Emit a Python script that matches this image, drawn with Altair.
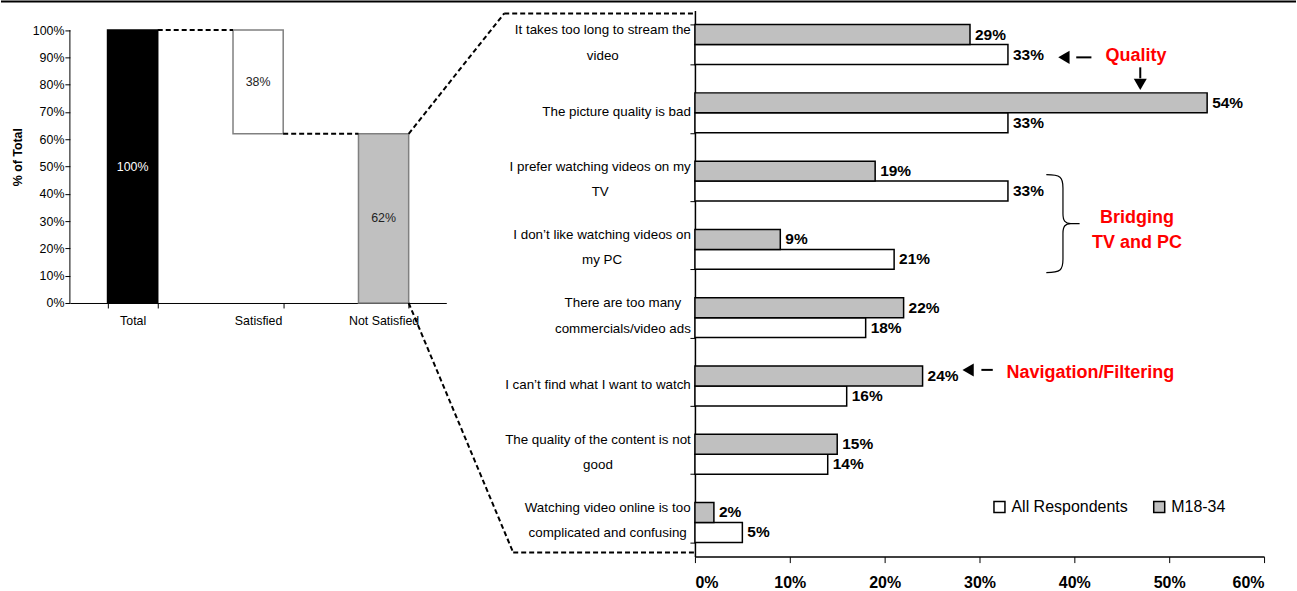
import altair as alt
import pandas as pd

# ---------------- data ----------------
wf_cats = ["Total", "Satisfied", "Not Satisfied"]
wf_lo = [0, 62, 0]
wf_hi = [100, 100, 62]
wf_labels = ["100%", "38%", "62%"]
wf_ticks = [0, 10, 20, 30, 40, 50, 60, 70, 80, 90, 100]

reasons = [
    "It takes too long to stream the\nvideo",
    "The picture quality is bad",
    "I prefer watching videos on my\nTV",
    "I don\u2019t like watching videos on\nmy PC",
    "There are too many\ncommercials/video ads",
    "I can\u2019t find what I want to watch",
    "The quality of the content is not\ngood",
    "Watching video online is too\ncomplicated and confusing",
]
all_resp = [33, 33, 33, 21, 18, 16, 14, 5]
m1834 = [29, 54, 19, 9, 22, 24, 15, 2]
series = ["All Respondents", "M18-34"]
x_ticks = [0, 10, 20, 30, 40, 50, 60]

# ---------------- styling / layout ----------------
F = "Liberation Sans, Arial, sans-serif"
RED = "#ff0000"
GRAY = "#c0c0c0"

LW, LH = 377, 293          # left plot area
L_PX_PER_PCT = 2.733       # left y scale px per %
RW, RH = 570, 547          # right plot area
SPACING = 249
PXP = RW / 60.0            # right x scale px per %
LAB_FS = 13.4

ytop = LH / L_PX_PER_PCT

# Arial / Liberation Sans advance widths (1/1000 em) for label centring
W = {" ": 278, "a": 556, "b": 556, "c": 500, "d": 556, "e": 556, "f": 278, "g": 556,
     "h": 556, "i": 222, "j": 222, "k": 500, "l": 222, "m": 833, "n": 556, "o": 556,
     "p": 556, "q": 556, "r": 333, "s": 500, "t": 278, "u": 556, "v": 500, "w": 722,
     "x": 500, "y": 500, "z": 500, "I": 278, "T": 611, "P": 667, "C": 722, "V": 667,
     "W": 944, "/": 278, "\u2019": 222}


def text_w(s, size):
    return sum(W.get(c, 556) for c in s) / 1000.0 * size


one = pd.DataFrame({"k": [0]})

# ---------------- left waterfall ----------------
wf = pd.DataFrame({"cat": wf_cats, "lo": wf_lo, "hi": wf_hi, "label": wf_labels})
base_l = alt.Chart(wf)

xL_axis = alt.Axis(title=None, labelAngle=0, labelFont=F, labelFontSize=12.4,
                   labelColor="black", domainColor="black", tickColor="black",
                   tickSize=5, tickBand="extent", labelPadding=7, domainWidth=1)
xL_scale = alt.Scale(paddingInner=0.6, paddingOuter=0.3)
yL_axis = alt.Axis(values=wf_ticks, labelExpr="datum.value + '%'", domain=False,
                   grid=False, title="% of Total", titleFont=F, titleFontSize=12.4,
                   titleFontWeight="bold", titleColor="black", titlePadding=8,
                   tickSize=5, tickColor="black", labelPadding=1, labelFont=F,
                   labelFontSize=12.4, labelColor="black", labelOverlap=False)
yL_scale = alt.Scale(domain=[0, ytop], nice=False, zero=True)

wf_bars = base_l.mark_bar(strokeWidth=1.5).encode(
    x=alt.X("cat:N", sort=wf_cats, scale=xL_scale, axis=xL_axis),
    y=alt.Y("lo:Q", scale=yL_scale, axis=yL_axis),
    y2="hi:Q",
    fill=alt.Fill("cat:N", scale=alt.Scale(domain=wf_cats, range=["black", "white", GRAY]), legend=None),
    stroke=alt.Stroke("cat:N", scale=alt.Scale(domain=wf_cats, range=["black", "#808080", "#808080"]), legend=None),
)
wf_text = base_l.transform_calculate(mid="(datum.lo + datum.hi) / 2").mark_text(
    font=F, fontSize=12.4, baseline="middle"
).encode(
    x=alt.X("cat:N", sort=wf_cats, scale=xL_scale, axis=xL_axis),
    y=alt.Y("mid:Q", scale=yL_scale, axis=yL_axis),
    text="label:N",
    color=alt.condition(alt.datum.cat == "Total", alt.value("white"), alt.value("#222222")),
)
wf_axis_line = alt.Chart(one).mark_rule(color="black", strokeWidth=1).encode(
    x=alt.value(0),
    y=alt.Y(datum=0, scale=yL_scale, axis=yL_axis),
    y2=alt.Y2(datum=100),
)

# connector geometry derived from the scale parameters
step = LW / 3.0
bw = step * 0.4
x0 = step * 0.3


def band_l(i):
    return x0 + i * step


def band_r(i):
    return x0 + i * step + bw


def ypx(v):
    return LH - v * L_PX_PER_PCT


right_origin = LW + SPACING
segs = [
    (band_r(0), ypx(100), band_l(1), ypx(100)),
    (band_r(1), ypx(62), band_l(2), ypx(62)),
    (band_r(2), ypx(62), 435, 3),
    (435, 3, right_origin, 3),
    (band_r(2), ypx(0), 444, 543),
    (444, 543, right_origin, 543),
]
conn_layers = [
    alt.Chart(one).mark_rule(color="black", strokeWidth=2, strokeDash=[5, 3]).encode(
        x=alt.value(a), y=alt.value(b), x2=alt.value(c), y2=alt.value(d))
    for a, b, c, d in segs
]
top_line = alt.Chart(one).mark_rule(color="black", strokeWidth=2).encode(
    x=alt.value(-69), x2=alt.value(1297 - 69), y=alt.value(-9), y2=alt.value(-9))

left = alt.layer(wf_bars, wf_text, wf_axis_line, *conn_layers, top_line).properties(width=LW, height=LH)

# ---------------- right bar chart ----------------
rows = []
for r, a, m in zip(reasons, all_resp, m1834):
    rows.append({"reason": r, "series": "All Respondents", "value": a})
    rows.append({"reason": r, "series": "M18-34", "value": m})
df = pd.DataFrame(rows)

yR_scale = alt.Scale(paddingInner=0.415, paddingOuter=0.2075)
yR_axis = alt.Axis(labels=False, title=None, tickBand="extent", tickSize=5,
                   domainColor="black", tickColor="black", domainWidth=1.5, tickWidth=1)
xR_scale = alt.Scale(domain=[0, 60], nice=False)
xR_axis = alt.Axis(values=x_ticks, labelExpr="datum.value + '%'", grid=False, title=None,
                   labelFont=F, labelFontSize=16, labelFontWeight="bold", labelColor="black",
                   tickSize=6, labelPadding=12, domainColor="black", tickColor="black",
                   domainWidth=1.5, labelOverlap=False)


def yR(field="reason:N"):
    return alt.Y(field, sort=reasons, scale=yR_scale, axis=yR_axis)


def xR(field):
    return alt.X(field, scale=xR_scale, axis=xR_axis)


def xRd(v):
    return alt.X(datum=v, scale=xR_scale, axis=xR_axis)


yoff = alt.YOffset("series:N", sort=["M18-34", "All Respondents"])

bars_r = alt.Chart(df).mark_bar(stroke="black", strokeWidth=1.5).encode(
    x=xR("value:Q"), y=yR(), yOffset=yoff,
    fill=alt.Fill(
        "series:N",
        scale=alt.Scale(domain=series, range=["white", GRAY]),
        legend=alt.Legend(orient="none", legendX=297, legendY=489, direction="horizontal",
                          title=None, symbolType="square", symbolSize=121,
                          symbolStrokeColor="black", symbolStrokeWidth=1.5,
                          labelFont=F, labelFontSize=16, labelColor="black",
                          columnPadding=22, labelOffset=4, padding=0),
    ),
)

vals_r = alt.Chart(df).transform_calculate(t="datum.value + '%'").mark_text(
    align="left", baseline="middle", dx=5, font=F, fontSize=15.5, fontWeight="bold", color="black"
).encode(
    x=xR("value:Q"), y=yR(), yOffset=yoff, text="t:N",
)

# category labels: one row per text line, centred within the label block
lab_rows = []
for r in reasons:
    lines = r.split("\n")
    block_w = max(text_w(l, LAB_FS) for l in lines)
    lx = -(4 + block_w / 2) / PXP
    for i, l in enumerate(lines):
        kind = "single" if len(lines) == 1 else ("first" if i == 0 else "second")
        lab_rows.append({"reason": r, "line": l, "lx": lx, "kind": kind})
lab_df = pd.DataFrame(lab_rows)

cat_label_layers = []
for kind, dy in [("single", -1), ("first", -14.5), ("second", 11)]:
    cat_label_layers.append(
        alt.Chart(lab_df).transform_filter(alt.datum.kind == kind).mark_text(
            align="center", baseline="middle", font=F, fontSize=LAB_FS, color="black", dy=dy
        ).encode(x=xR("lx:Q"), y=yR(), text="line:N")
    )


def ann_text(txt, xd, ypix, align="center"):
    return alt.Chart(one).mark_text(
        font=F, fontSize=18, fontWeight="bold", color=RED, align=align, baseline="middle"
    ).encode(x=xRd(xd), y=alt.value(ypix), text=alt.value(txt))


def shaft_h(xa, xb, ypix):
    return alt.Chart(one).mark_rule(color="black", strokeWidth=2).encode(
        x=xRd(xa), x2=alt.X2(datum=xb), y=alt.value(ypix))


def head(xd, ypix, shape):
    return alt.Chart(one).mark_point(shape=shape, filled=True, color="black", size=170, opacity=1).encode(
        x=xRd(xd), y=alt.value(ypix))


brace_path = ("M -0.34 -1 C -0.05 -1 0 -0.95 0 -0.73 L 0 -0.2 C 0 -0.05 0.05 0 0.16 0 L 0.34 0 "
              "M 0.16 0 C 0.05 0 0 0.05 0 0.2 L 0 0.73 C 0 0.95 -0.05 1 -0.34 1")
brace = alt.Chart(one).mark_point(shape=brace_path, filled=False, color="black",
                                  strokeWidth=1.2, size=9604, opacity=1).encode(
    x=xRd(38.8), y=alt.value(213.5))

down_shaft = alt.Chart(one).mark_rule(color="black", strokeWidth=2).encode(
    x=xRd(46.95), y=alt.value(57), y2=alt.value(68))

annotations = [
    ann_text("Quality", 46.5, 46),
    shaft_h(40.2, 41.8, 47), head(38.9, 47, "triangle-left"),
    down_shaft, head(46.95, 74, "triangle-down"),
    brace,
    ann_text("Bridging", 46.6, 208),
    ann_text("TV and PC", 46.6, 233),
    ann_text("Navigation/Filtering", 32.85, 363, align="left"),
    shaft_h(30.2, 31.4, 360), head(28.8, 360, "triangle-left"),
]

right = alt.layer(bars_r, vals_r, *cat_label_layers, *annotations).properties(width=RW, height=RH)

chart = alt.hconcat(left, right, spacing=SPACING, bounds="flush").resolve_scale(
    fill="independent", stroke="independent", color="independent"
).resolve_legend(fill="independent", stroke="independent", color="independent").properties(
    padding=0, background="white"
).configure_view(strokeWidth=0)

chart.save("out.html", embed_options={"renderer": "svg", "actions": False})
